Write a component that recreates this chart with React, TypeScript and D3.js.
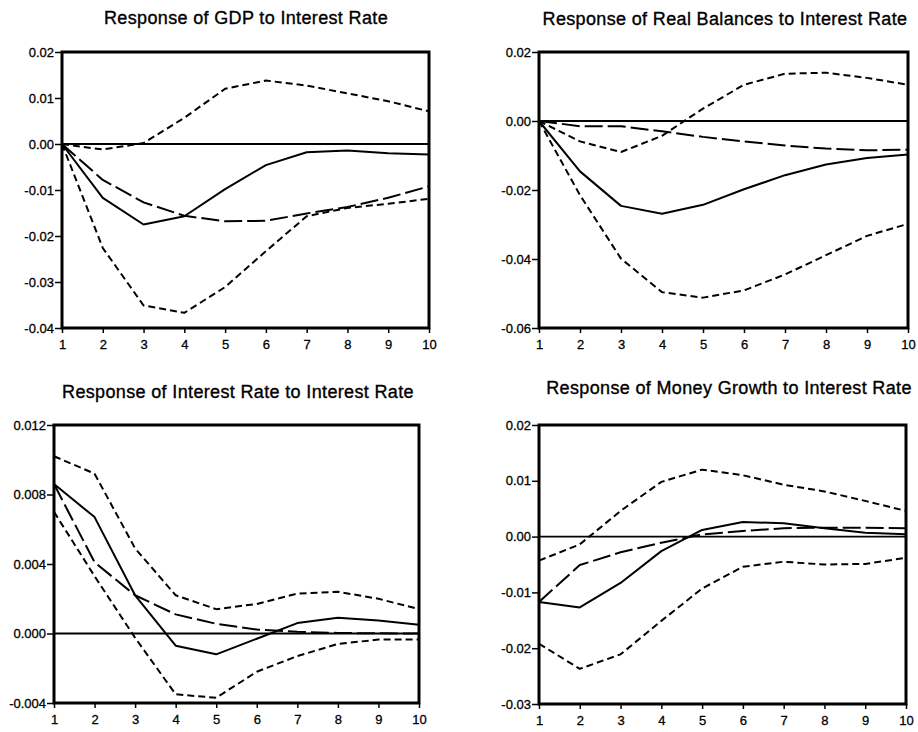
import React, { useEffect, useRef } from 'react';
import * as d3 from 'd3';

// horizon (periods after the shock)
const periods = [1, 2, 3, 4, 5, 6, 7, 8, 9, 10];

const titles = [
  'Response of GDP to Interest Rate',
  'Response of Real Balances to Interest Rate',
  'Response of Interest Rate to Interest Rate',
  'Response of Money Growth to Interest Rate',
];

// GDP
const gdpPoint = [0, -0.0117, -0.0175, -0.0157, -0.0098, -0.0046, -0.0018, -0.0014, -0.002, -0.0023];
const gdpAlt = [0, -0.0078, -0.0127, -0.0156, -0.0168, -0.0167, -0.0151, -0.0137, -0.0117, -0.0092];
const gdpUpper = [0, -0.0012, 0.0002, 0.0057, 0.012, 0.0138, 0.0127, 0.011, 0.0093, 0.0071];
const gdpLower = [0, -0.0226, -0.0351, -0.0367, -0.0311, -0.0233, -0.0157, -0.0139, -0.013, -0.0119];
const gdpTicks = [0.02, 0.01, 0, -0.01, -0.02, -0.03, -0.04];

// Real balances
const rbPoint = [0, -0.0146, -0.0246, -0.0269, -0.0243, -0.0198, -0.0157, -0.0126, -0.0107, -0.0097];
const rbAlt = [0, -0.0015, -0.0015, -0.003, -0.0046, -0.0059, -0.0071, -0.008, -0.0085, -0.0083];
const rbUpper = [0, -0.0059, -0.009, -0.0043, 0.0036, 0.0105, 0.0137, 0.014, 0.0125, 0.0105];
const rbLower = [0, -0.0215, -0.0399, -0.0496, -0.0512, -0.0491, -0.0445, -0.0389, -0.0333, -0.0298];
const rbTicks = [0.02, 0, -0.02, -0.04, -0.06];

// Interest rate
const irPoint = [0.0086, 0.0067, 0.0022, -0.0007, -0.0012, -0.0003, 0.0006, 0.0009, 0.00075, 0.0005];
const irAlt = [0.0086, 0.0041, 0.0022, 0.0011, 0.00056, 0.00023, 0.0001, 0.00003, 0.00001, 0];
const irUpper = [0.0102, 0.0092, 0.0049, 0.0022, 0.0014, 0.0017, 0.0023, 0.0024, 0.002, 0.0014];
const irLower = [0.007, 0.0033, -0.00025, -0.0035, -0.0037, -0.0022, -0.0013, -0.0006, -0.00035, -0.00035];
const irTicks = [0.012, 0.008, 0.004, 0, -0.004];

// Money growth
const mgPoint = [-0.0117, -0.0127, -0.0083, -0.0026, 0.0012, 0.0026, 0.0024, 0.0015, 0.0007, 0.0004];
const mgAlt = [-0.0117, -0.0051, -0.0028, -0.0011, 0.0004, 0.001, 0.0015, 0.0016, 0.0016, 0.0015];
const mgUpper = [-0.0043, -0.0014, 0.0046, 0.0098, 0.012, 0.011, 0.0093, 0.0081, 0.0064, 0.0046];
const mgLower = [-0.0192, -0.0237, -0.0211, -0.0151, -0.0093, -0.0054, -0.0045, -0.005, -0.0049, -0.0038];
const mgTicks = [0.02, 0.01, 0, -0.01, -0.02, -0.03];

const App: React.FC = () => {
  const svgRef = useRef<SVGSVGElement | null>(null);

  useEffect(() => {
    if (!svgRef.current) return;
    const svg = d3.select(svgRef.current);
    svg.selectAll('*').remove();

    const font = 'Liberation Sans, Arial, sans-serif';

    // layout of the four panels: plot box + title position
    const panels = [
      { title: titles[0], series: [gdpUpper, gdpLower, gdpAlt, gdpPoint], ticks: gdpTicks, dec: 2,
        left: 62, right: 429, top: 52, bottom: 328, tx: 246, ty: 24 },
      { title: titles[1], series: [rbUpper, rbLower, rbAlt, rbPoint], ticks: rbTicks, dec: 2,
        left: 539, right: 908, top: 52, bottom: 328, tx: 725, ty: 25 },
      { title: titles[2], series: [irUpper, irLower, irAlt, irPoint], ticks: irTicks, dec: 3,
        left: 54, right: 419, top: 425, bottom: 703, tx: 238, ty: 398 },
      { title: titles[3], series: [mgUpper, mgLower, mgAlt, mgPoint], ticks: mgTicks, dec: 2,
        left: 539, right: 906, top: 425, bottom: 704, tx: 729, ty: 394 },
    ];

    // dash styles: bands, alternative estimate, point estimate
    const dashes = ['7,4', '7,4', '18,5', null];

    panels.forEach(p => {
      const g = svg.append('g');
      const x = d3.scaleLinear().domain([1, 10]).range([p.left, p.right]);
      const y = d3
        .scaleLinear()
        .domain([d3.min(p.ticks)!, d3.max(p.ticks)!])
        .range([p.bottom, p.top]);

      g.append('text')
        .attr('x', p.tx)
        .attr('y', p.ty)
        .attr('text-anchor', 'middle')
        .attr('font-family', font)
        .attr('font-size', '18px')
        .attr('letter-spacing', '0.35px')
        .attr('stroke', '#000')
        .attr('stroke-width', 0.35)
        .text(p.title);

      // y axis
      const yAxis = g
        .append('g')
        .attr('transform', `translate(${p.left},0)`)
        .call(
          d3
            .axisLeft(y)
            .tickValues(p.ticks)
            .tickSize(7)
            .tickPadding(1)
            .tickFormat(d => (+d).toFixed(p.dec))
        );
      yAxis.select('.domain').remove();
      yAxis.selectAll('line').attr('stroke', '#000').attr('stroke-width', 1.5);
      yAxis
        .selectAll('text')
        .attr('font-family', font)
        .attr('font-size', '13px')
        .attr('fill', '#000')
        .attr('stroke', '#000')
        .attr('stroke-width', 0.3);

      // x axis
      const xAxis = g
        .append('g')
        .attr('transform', `translate(0,${p.bottom})`)
        .call(d3.axisBottom(x).tickValues(periods).tickSize(5).tickPadding(7).tickFormat(d3.format('d')));
      xAxis.select('.domain').remove();
      xAxis.selectAll('line').attr('stroke', '#000').attr('stroke-width', 1.5);
      xAxis
        .selectAll('text')
        .attr('font-family', font)
        .attr('font-size', '13px')
        .attr('fill', '#000')
        .attr('stroke', '#000')
        .attr('stroke-width', 0.3);

      // zero line
      g.append('line')
        .attr('x1', p.left)
        .attr('x2', p.right)
        .attr('y1', y(0))
        .attr('y2', y(0))
        .attr('stroke', '#000')
        .attr('stroke-width', 1.8);

      const line = d3
        .line<number>()
        .x((_, i) => x(periods[i]))
        .y(d => y(d));

      p.series.forEach((s, i) => {
        g.append('path')
          .attr('d', line(s))
          .attr('fill', 'none')
          .attr('stroke', '#000')
          .attr('stroke-width', 2)
          .attr('stroke-dasharray', dashes[i])
          .attr('stroke-linejoin', 'round');
      });

      // frame
      g.append('rect')
        .attr('x', p.left)
        .attr('y', p.top)
        .attr('width', p.right - p.left)
        .attr('height', p.bottom - p.top)
        .attr('fill', 'none')
        .attr('stroke', '#000')
        .attr('stroke-width', 3);
    });
  }, []);

  return (
    <svg
      ref={svgRef}
      width={918}
      height={732}
      style={{ position: 'absolute', left: 0, top: 0, background: '#fff' }}
    />
  );
};

export default App;
